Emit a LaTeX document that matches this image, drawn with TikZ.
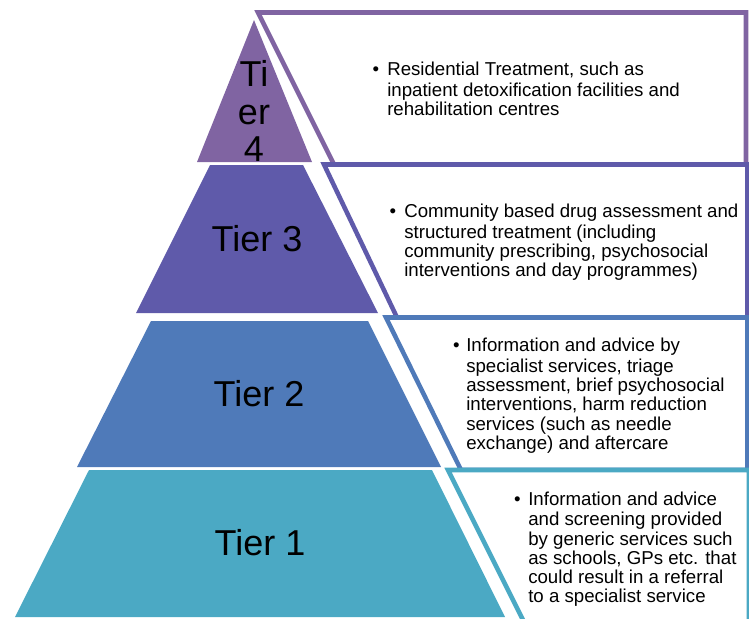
\documentclass[tikz,border=0pt]{standalone}
\usepackage{fontspec}
\setmainfont{Liberation Sans}
\usepackage{tikz}
\definecolor{tierfour}{HTML}{8064A2}
\definecolor{tierthree}{HTML}{5F5AAA}
\definecolor{tiertwo}{HTML}{4F7AB9}
\definecolor{tierone}{HTML}{4BA9C4}
\tikzset{
  tierlabel/.style={inner sep=0pt, font=\fontsize{27}{28}\selectfont},
  infobox/.style={line width=3.4pt, fill=white},
  infotext/.style={inner sep=0pt, anchor=north west, align=left, font=\fontsize{14}{14.4}\selectfont},
  bulletmark/.style={inner sep=0pt, anchor=base, font=\fontsize{14}{14.4}\selectfont}
}

\begin{document}
\begin{tikzpicture}[x=0.75pt,y=-0.75pt]
		\useasboundingbox (0,0) rectangle (749,618);
		\clip (0,0) rectangle (749,618);
		% pyramid
		\fill[tierfour] (254,20) -- (312,162) -- (197,162) -- cycle;
		\fill[tierthree] (210,165) -- (303,165) -- (378,313) -- (136,313) -- cycle;
		\fill[tiertwo] (151,321) -- (368,321) -- (441,467) -- (77,467) -- cycle;
		\fill[tierone] (89,470) -- (432,470) -- (505,617) -- (15,617) -- cycle;
		% boxes
		\draw[infobox, draw=tierfour] (258,12.5) -- (746,12.5) -- (746,164.5) -- (334,164.5) -- cycle;
		\draw[infobox, draw=tierthree] (324,164.5) -- (747.5,164.5) -- (747.5,317.5) -- (397,317.5) -- cycle;
		\draw[infobox, draw=tiertwo] (386,317.5) -- (747.5,317.5) -- (747.5,470) -- (461,470) -- cycle;
		\draw[infobox, draw=tierone] (448,470) -- (749,470) -- (749,640) -- (533,640) -- cycle;
		% labels
		\node[tierlabel, align=center] (label4) at (254,111) {Ti\\er\\4};
		\node[tierlabel] (label3) at (257,239) {Tier 3};
		\node[tierlabel] (label2) at (259,394) {Tier 2};
		\node[tierlabel] (label1) at (260,543) {Tier 1};
		% texts
		\node[bulletmark] (dot4) at (376,75.5) {•};
		\node[infotext] (info4) at (387,61.9) {\strut Residential Treatment, such as\\inpatient detoxification facilities and\\rehabilitation centres};
		\node[bulletmark] (dot3) at (393,217.5) {•};
		\node[infotext] (info3) at (404,203.9) {\strut Community based drug assessment and\\structured treatment (including\\community prescribing, psychosocial\\interventions and day programmes)};
		\node[bulletmark] (dot2) at (456.5,351.7) {•};
		\node[infotext] (info2) at (466,338.1) {\strut Information and advice by\\specialist services, triage\\assessment, brief psychosocial\\interventions, harm reduction\\services (such as needle\\exchange) and aftercare};
		\node[bulletmark] (dot1) at (517.5,505) {•};
		\node[infotext] (info1) at (528,491.4) {\strut Information and advice\\and screening provided\\by generic services such\\as schools, GPs etc. that\\could result in a referral\\to a specialist service};
\end{tikzpicture}
\end{document}
